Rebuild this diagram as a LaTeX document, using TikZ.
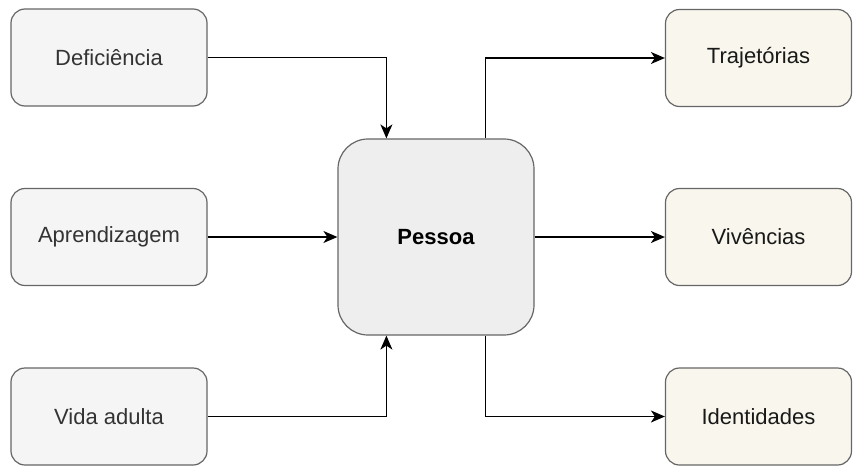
\documentclass[tikz,border=0pt]{standalone}
\usepackage{fontspec}
\setmainfont{Liberation Sans}
\usetikzlibrary{arrows.meta}
\definecolor{inputfill}{HTML}{F5F5F5}
\definecolor{outputfill}{HTML}{F9F7ED}
\definecolor{personfill}{HTML}{EEEEEE}
\definecolor{boxline}{HTML}{666666}

\begin{document}
\begin{tikzpicture}[x=1pt, y=-1pt,
  inbox/.style={draw=boxline, fill=inputfill, line width=1.2pt, rounded corners=14pt,
    minimum width=196pt, minimum height=97pt, text=black!80, font=\fontsize{22}{26}\selectfont},
  outbox/.style={inbox, fill=outputfill, minimum width=186pt, text=black!90},
  personbox/.style={inbox, fill=personfill, rounded corners=30pt, minimum width=196pt,
    minimum height=196pt, text=black, font=\fontsize{22}{26}\selectfont\bfseries},
  conn/.style={line width=1.5pt, -{Stealth[length=14pt, width=12pt, inset=4pt]}}
]
\useasboundingbox (0,0) rectangle (853,466);

% Inputs on the left
\node[inbox] (def) at (109,57.5) {Deficiência};
\node[inbox] (apr) at (109,237) {Aprendizagem};
\node[inbox] (vid) at (109,416.5) {Vida adulta};

% Person in the middle
\node[personbox] (pes) at (436,237) {Pessoa};

% Outputs on the right
\node[outbox] (tra) at (758.5,58) {Trajetórias};
\node[outbox] (viv) at (758.5,237) {Vivências};
\node[outbox] (ide) at (758.5,416.5) {Identidades};

% Connectors
\draw[conn] (def.east) -| ([xshift=49pt]pes.north west);
\draw[conn] (apr.east) -- (pes.west);
\draw[conn] (vid.east) -| ([xshift=49pt]pes.south west);
\draw[conn] ([xshift=-49pt]pes.north east) |- (tra.west);
\draw[conn] (pes.east) -- (viv.west);
\draw[conn] ([xshift=-49pt]pes.south east) |- (ide.west);
\end{tikzpicture}
\end{document}
